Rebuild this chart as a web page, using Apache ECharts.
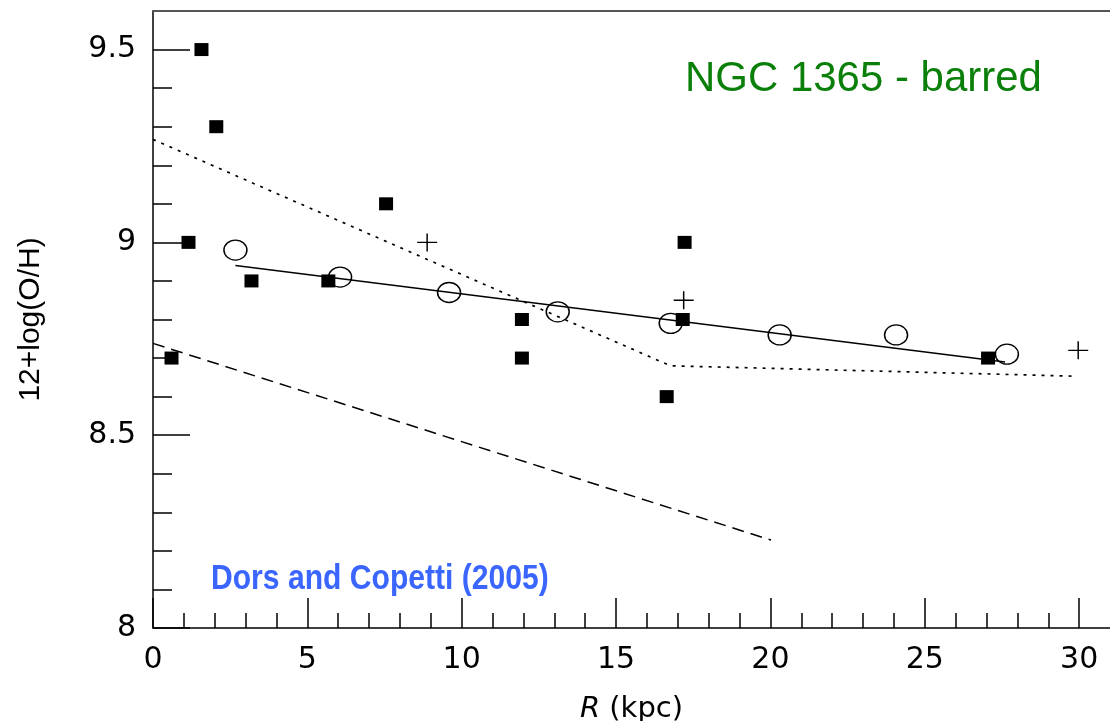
<!DOCTYPE html>
<html><head><meta charset="utf-8">
<script src="https://cdn.jsdelivr.net/npm/echarts@6/dist/echarts.min.js"></script>
<style>html,body{margin:0;padding:0;background:#fff}#c{width:1110px;height:721px}</style>
</head><body><div id="c"></div><script>
// ---- data ----
const squareR  = [1.57, 2.05, 1.15, 0.6, 3.19, 5.68, 7.55, 11.95, 11.95, 16.64, 17.22, 17.16, 27.05];
const squareOH = [9.5, 9.3, 9.0, 8.7, 8.9, 8.9, 9.1, 8.8, 8.7, 8.6, 9.0, 8.8, 8.7];
const circleR  = [2.67, 6.06, 9.59, 13.11, 16.77, 20.3, 24.07, 27.66];
const circleOH = [8.98, 8.91, 8.87, 8.82, 8.79, 8.76, 8.76, 8.71];
const crossR   = [8.88, 17.19, 29.97];
const crossOH  = [9.0, 8.85, 8.72];
const fitR     = [2.67, 27.6];
const fitOH    = [8.94, 8.69];
const dottedR  = [0, 16.76, 29.86];
const dottedOH = [9.267, 8.68, 8.653];
const dashedR  = [0, 20.02];
const dashedOH = [8.738, 8.228];
// ---- ticks ----
const xMajorTicks = [0, 5, 10, 15, 20, 25, 30];
const xMinorTicks = [1,2,3,4,6,7,8,9,11,12,13,14,16,17,18,19,21,22,23,24,26,27,28,29];
const yMajorTicks = [8, 8.5, 9, 9.5];
const yMinorTicks = [8.1,8.2,8.3,8.4,8.6,8.7,8.8,8.9,9.1,9.2,9.3,9.4];
const titleText = 'NGC 1365 - barred';
const sourceText = 'Dors and Copetti (2005)';

const zip = (a, b) => a.map((v, i) => [v, b[i]]);
const chart = echarts.init(document.getElementById('c'), null, {renderer: 'canvas'});
const tickStyle = {color: '#000', width: 1.5};
const hidden = {axisLine: {show: false}, axisLabel: {show: false}, splitLine: {show: false}};

const option = {
  animation: false,
  backgroundColor: '#fff',
  grid: {left: 153, right: 0, top: 11, bottom: 93, outerBoundsMode: 'none', containLabel: false},
  xAxis: [
    {
      type: 'value', position: 'bottom', min: 0, max: 31,
      axisLine: {show: true, onZero: false, lineStyle: {color: '#000', width: 1.5}},
      axisTick: {show: true, inside: true, length: 30, customValues: xMajorTicks, lineStyle: tickStyle},
      axisLabel: {customValues: xMajorTicks, fontFamily: 'DejaVu Sans', fontSize: 30, color: '#000', margin: 17},
      splitLine: {show: false},
      name: '{i|R} (kpc)', nameLocation: 'middle', nameGap: 67,
      nameTextStyle: {fontFamily: 'DejaVu Sans', fontSize: 29, color: '#000',
        rich: {i: {fontStyle: 'italic', fontFamily: 'DejaVu Sans', fontSize: 29, color: '#000'}}}
    },
    Object.assign({
      type: 'value', position: 'bottom', min: 0, max: 31,
      axisTick: {show: true, inside: true, length: 15, customValues: xMinorTicks, lineStyle: tickStyle}
    }, hidden),
    {
      type: 'value', position: 'top', min: 0, max: 31,
      axisLine: {show: true, onZero: false, lineStyle: {color: '#555', width: 2}},
      axisTick: {show: false}, axisLabel: {show: false}, splitLine: {show: false}
    }
  ],
  yAxis: [
    {
      type: 'value', position: 'left', min: 8, max: 9.6,
      axisLine: {show: true, onZero: false, lineStyle: {color: '#000', width: 1.5}},
      axisTick: {show: true, inside: true, length: 37, customValues: yMajorTicks, lineStyle: tickStyle},
      axisLabel: {customValues: yMajorTicks, fontFamily: 'DejaVu Sans', fontSize: 30, color: '#000', margin: 17},
      splitLine: {show: false},
      name: '12+log(O/H)', nameLocation: 'middle', nameGap: 107,
      nameTextStyle: {fontFamily: 'Liberation Sans', fontSize: 30, color: '#000'}
    },
    Object.assign({
      type: 'value', position: 'left', min: 8, max: 9.6,
      axisTick: {show: true, inside: true, length: 19, customValues: yMinorTicks, lineStyle: tickStyle}
    }, hidden)
  ],
  series: [
    {type: 'line', data: zip(dashedR, dashedOH), showSymbol: false, symbol: 'none',
      lineStyle: {color: '#000', width: 1.5, type: [12, 7], opacity: 1}, z: 2},
    {type: 'line', data: zip(dottedR, dottedOH), showSymbol: false, symbol: 'none',
      lineStyle: {color: '#000', width: 1.7, type: [3, 6], opacity: 1}, z: 2},
    {type: 'line', data: zip(fitR, fitOH), showSymbol: false, symbol: 'none',
      lineStyle: {color: '#000', width: 1.5, opacity: 1}, z: 2},
    {type: 'scatter', data: zip(circleR, circleOH), symbol: 'circle', symbolSize: [23, 20],
      itemStyle: {color: 'rgba(0,0,0,0)', borderColor: '#000', borderWidth: 1.4, opacity: 1}, z: 3},
    {type: 'scatter', data: zip(crossR, crossOH), symbol: 'path://M10,0L10,20M0,10L20,10', symbolSize: [20, 18],
      symbolKeepAspect: false,
      itemStyle: {color: 'rgba(0,0,0,0)', borderColor: '#000', borderWidth: 1.4, opacity: 1}, z: 3},
    {type: 'scatter', data: zip(squareR, squareOH), symbol: 'rect', symbolSize: [14, 13],
      itemStyle: {color: '#000', opacity: 1}, z: 4}
  ],
  graphic: [
    {type: 'text', x: 685, y: 79, scaleX: 0.976, z: 10,
      style: {x: 0, y: 0, text: titleText, fill: '#0a800a', font: '43px "Liberation Sans", Arial, sans-serif',
        textAlign: 'left', textVerticalAlign: 'middle', verticalAlign: 'middle'}},
    {type: 'text', x: 211, y: 579, scaleX: 0.86, z: 10,
      style: {x: 0, y: 0, text: sourceText, fill: '#3a66ff', font: 'bold 35px "Liberation Sans", Arial, sans-serif',
        textAlign: 'left', textVerticalAlign: 'middle', verticalAlign: 'middle'}}
  ]
};
chart.setOption(option);
</script></body></html>
